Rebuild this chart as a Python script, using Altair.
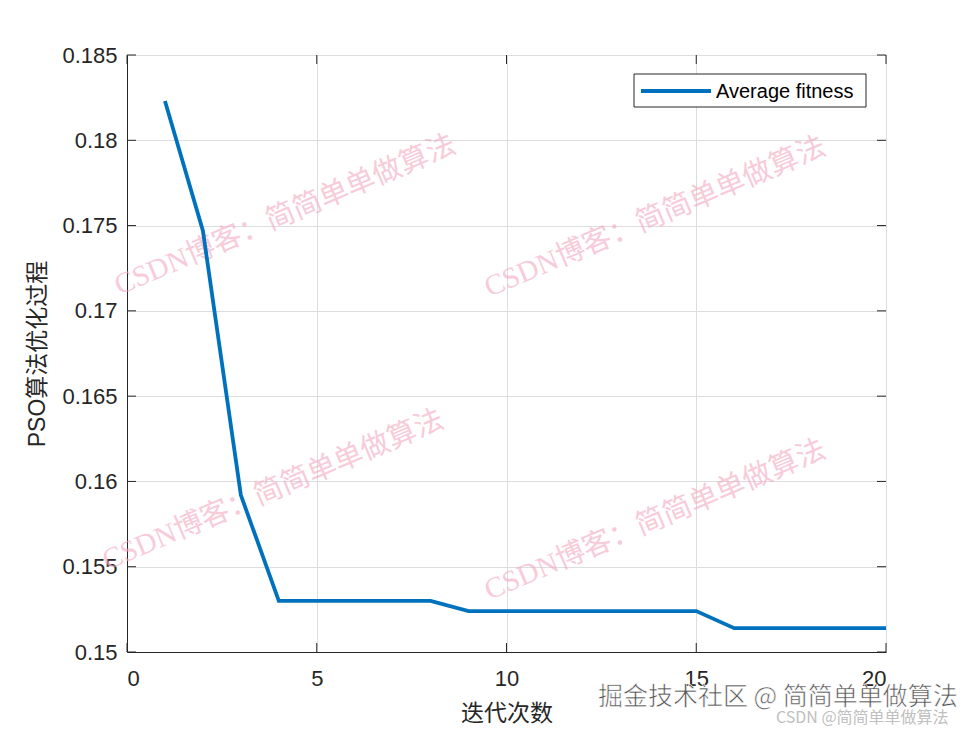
import altair as alt
import pandas as pd

# ---- data ----
iterations = list(range(1, 21))
avg_fitness = [0.1823, 0.1747, 0.1592, 0.1530, 0.1530, 0.1530, 0.1530, 0.1530,
               0.1524, 0.1524, 0.1524, 0.1524, 0.1524, 0.1524, 0.1524,
               0.1514, 0.1514, 0.1514, 0.1514, 0.1514]
series_name = "Average fitness"
x_ticks = [0, 5, 10, 15, 20]
y_ticks = [0.15, 0.155, 0.16, 0.165, 0.17, 0.175, 0.18, 0.185]
x_title = "迭代次数"
y_title = "PSO算法优化过程"
wm_text = "CSDN博客：简简单单做算法"
wm_positions_x = [285, 655, 273, 655]
wm_positions_y = [215, 217, 490, 520]
credit1 = "掘金技术社区 @ 简简单单做算法"
credit2 = "CSDN @简简单单做算法"

W, H = 759, 597
PL, PT = 119, 47
FONT = "Liberation Sans, Arial, Noto Sans CJK SC"
CJK = "Noto Sans CJK SC"
BLUE = "#0072BD"
INK = "#262626"

df = pd.DataFrame({"iter": iterations, "fit": avg_fitness})
xt = pd.DataFrame({"x": x_ticks})
yt = pd.DataFrame({"y": y_ticks})

xscale = alt.Scale(domain=[0, 20], nice=False, zero=False)
yscale = alt.Scale(domain=[0.15, 0.185], nice=False, zero=False)

line = alt.Chart(df).mark_line(strokeWidth=3.8, clip=True, color=BLUE).encode(
    x=alt.X("iter:Q", scale=xscale,
            axis=alt.Axis(values=x_ticks, title=x_title, grid=True, tickSize=0,
                          labelPadding=16, labelFontSize=22, labelFont=FONT, labelColor=INK,
                          titleFont=CJK, titleFontSize=23, titleFontWeight="normal", titleColor=INK,
                          titleY=61, titleBaseline="middle", domainColor=INK)),
    y=alt.Y("fit:Q", scale=yscale,
            axis=alt.Axis(values=y_ticks, format="~g", title=y_title, grid=True, tickSize=0,
                          labelPadding=10, labelFontSize=22, labelFont=FONT, labelColor=INK,
                          titleFont=FONT, titleFontSize=23, titleFontWeight="normal", titleColor=INK,
                          titleX=-90, titleY=H / 2, titleAngle=270, titleBaseline="middle",
                          titleAlign="center", domainColor=INK)),
)

tick_len = 9
bx = alt.Chart(xt).mark_rule(color=INK, strokeWidth=1).encode(
    x=alt.X("x:Q", scale=xscale), y=alt.value(H), y2=alt.value(H - tick_len))
tx = alt.Chart(xt).mark_rule(color=INK, strokeWidth=1).encode(
    x=alt.X("x:Q", scale=xscale), y=alt.value(0), y2=alt.value(tick_len))
ly = alt.Chart(yt).mark_rule(color=INK, strokeWidth=1).encode(
    y=alt.Y("y:Q", scale=yscale), x=alt.value(0), x2=alt.value(tick_len))
ry = alt.Chart(yt).mark_rule(color=INK, strokeWidth=1).encode(
    y=alt.Y("y:Q", scale=yscale), x=alt.value(W), x2=alt.value(W - tick_len))

# legend (manual, MATLAB style box)
leg_df = pd.DataFrame({"t": [series_name]})
leg_box = alt.Chart(leg_df).mark_rect(fill="white", stroke=INK, strokeWidth=1).encode(
    x=alt.value(507), x2=alt.value(739), y=alt.value(19), y2=alt.value(52))
leg_line = alt.Chart(leg_df).mark_rule(color=BLUE, strokeWidth=3.8).encode(
    x=alt.value(514), x2=alt.value(584), y=alt.value(36), y2=alt.value(36))
leg_text = alt.Chart(leg_df).mark_text(fontSize=20, font=FONT, color="#000000",
                                       align="left", baseline="middle").encode(
    x=alt.value(589), y=alt.value(36.5), text="t:N")

wm_df = pd.DataFrame({"t": [wm_text] * 4,
                      "px": [v - 127 for v in wm_positions_x],
                      "py": [v - 55 for v in wm_positions_y]})
wm = alt.Chart(wm_df).mark_text(fontSize=29, font="Liberation Serif, Noto Sans CJK SC",
                                color="#f3a9c0", opacity=0.6, angle=337,
                                align="center", baseline="middle").encode(
    x=alt.X("px:Q", scale=None), y=alt.Y("py:Q", scale=None), text="t:N")

cr_df = pd.DataFrame({"t": [credit1, credit2], "px": [598 - 127, 776 - 127],
                      "py": [697 - 55, 718 - 55]})
cr1 = alt.Chart(cr_df.iloc[[0]]).mark_text(fontSize=25, font=CJK, color="#555555",
                                           align="left", baseline="middle",
                                           stroke="white", strokeWidth=0.6).encode(
    x=alt.X("px:Q", scale=None), y=alt.Y("py:Q", scale=None), text="t:N")
cr2 = alt.Chart(cr_df.iloc[[1]]).mark_text(fontSize=16, font=CJK, color="#c0c0c0",
                                           align="left", baseline="middle").encode(
    x=alt.X("px:Q", scale=None), y=alt.Y("py:Q", scale=None), text="t:N")

chart = alt.layer(wm, line, bx, tx, ly, ry, leg_box, leg_line, leg_text, cr1, cr2).properties(
    width=W, height=H,
    padding={"left": PL, "top": PT, "right": 86, "bottom": 75},
    autosize=alt.AutoSizeParams(type="none"),
).configure_view(stroke=INK, strokeWidth=1).configure_axis(
    gridColor="#e3e3e3", gridWidth=1, domain=True
).configure(background="white")

chart.save("out.html", embed_options={"renderer": "svg", "actions": False})
